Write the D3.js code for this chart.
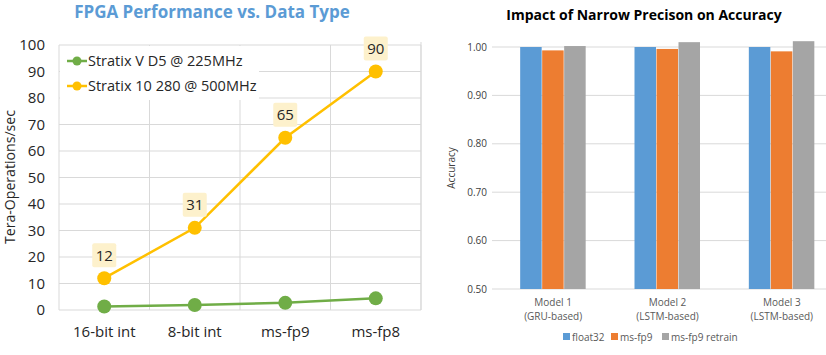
<!DOCTYPE html>
<html><head><meta charset="utf-8">
<script src="https://cdnjs.cloudflare.com/ajax/libs/d3/7.8.5/d3.min.js"></script>
<style>body{margin:0;background:#fff;}svg{display:block;font-family:"Open Sans",sans-serif;}</style>
</head><body>
<svg id="c" width="826" height="355"></svg>
<script>
// Left chart data
const perfCategories = ["16-bit int", "8-bit int", "ms-fp9", "ms-fp8"];
const perfSeriesNames = ["Stratix V D5 @ 225MHz", "Stratix 10 280 @ 500MHz"];
const stratixV = [1.3, 1.9, 2.7, 4.4];
const stratix10 = [12, 31, 65, 90];
const stratix10Labels = ["12", "31", "65", "90"];
const perfTicks = [0, 10, 20, 30, 40, 50, 60, 70, 80, 90, 100];

// Right chart data
const models = ["Model 1|(GRU-based)", "Model 2|(LSTM-based)", "Model 3|(LSTM-based)"];
const accSeriesNames = ["float32", "ms-fp9", "ms-fp9 retrain"];
const float32 = [1.000, 1.000, 1.000];
const msfp9 = [0.993, 0.996, 0.991];
const msfp9Retrain = [1.002, 1.010, 1.012];
const accTicks = [0.5, 0.6, 0.7, 0.8, 0.9, 1.0];

const svg = d3.select("#c");
const grid = "#d9d9d9";

// ---------- Left chart ----------
{
  const L = 59, R = 421, T = 45, B = 310;
  const x = d3.scalePoint().domain(perfCategories).range([L, R]).padding(0.5);
  const y = d3.scaleLinear().domain([0, 100]).range([B, T]);
  const g = svg.append("g");
  g.append("text").attr("x", 212).attr("y", 18).attr("text-anchor", "middle")
    .attr("font-size", 17).attr("font-weight", "bold").attr("fill", "#5b9bd5")
    .text("FPGA Performance vs. Data Type");
  g.selectAll(".hg").data(perfTicks).join("line")
    .attr("x1", L).attr("x2", R).attr("y1", d => y(d)).attr("y2", d => y(d))
    .attr("stroke", grid).attr("stroke-width", 1);
  const step = x.step();
  const vlines = [0, 1, 2, 3, 4].map(i => L + i * step);
  g.selectAll(".vg").data(vlines).join("line")
    .attr("x1", d => d).attr("x2", d => d).attr("y1", T).attr("y2", B)
    .attr("stroke", grid).attr("stroke-width", 1);
  g.selectAll(".yt").data(perfTicks).join("text")
    .attr("x", 45).attr("y", d => y(d)).attr("dy", "0.35em").attr("text-anchor", "end")
    .attr("font-size", 15).attr("fill", "#262626").text(d => d);
  g.selectAll(".xt").data(perfCategories).join("text")
    .attr("x", d => x(d)).attr("y", 337).attr("text-anchor", "middle")
    .attr("font-size", 15).attr("fill", "#262626").text(d => d);
  g.append("text").attr("transform", `translate(15,177) rotate(-90)`)
    .attr("text-anchor", "middle").attr("font-size", 14).attr("fill", "#262626")
    .attr("textLength", 134).attr("lengthAdjust", "spacingAndGlyphs")
    .text("Tera-Operations/sec");
  g.append("rect").attr("x", L + 1).attr("y", T + 1).attr("width", 199).attr("height", 54).attr("fill", "#fff");
  const line = d3.line().x((d, i) => x(perfCategories[i])).y(d => y(d));
  const series = [{v: stratixV, c: "#70ad47"}, {v: stratix10, c: "#ffc000"}];
  series.forEach(s => {
    g.append("path").attr("d", line(s.v)).attr("fill", "none").attr("stroke", s.c).attr("stroke-width", 2.5);
    g.selectAll(null).data(s.v).join("circle")
      .attr("cx", (d, i) => x(perfCategories[i])).attr("cy", d => y(d)).attr("r", 7).attr("fill", s.c);
  });
  stratix10.forEach((v, i) => {
    const cx = x(perfCategories[i]), cy = y(v) - 23;
    g.append("rect").attr("x", cx - 12).attr("y", cy - 12).attr("width", 24).attr("height", 24)
      .attr("rx", 2).attr("fill", "#fdf1cc");
    g.append("text").attr("x", cx).attr("y", cy).attr("dy", "0.36em").attr("text-anchor", "middle")
      .attr("font-size", 15).attr("fill", "#262626").text(stratix10Labels[i]);
  });
  perfSeriesNames.forEach((n, i) => {
    const ly = 61 + i * 25;
    g.append("line").attr("x1", 67).attr("x2", 87).attr("y1", ly).attr("y2", ly)
      .attr("stroke", series[i].c).attr("stroke-width", 2.5);
    g.append("circle").attr("cx", 77).attr("cy", ly).attr("r", 4.5).attr("fill", series[i].c);
    g.append("text").attr("x", 88).attr("y", ly).attr("dy", "0.36em").attr("font-size", 14.5)
      .attr("fill", "#262626").text(n);
  });
}

// ---------- Right chart ----------
{
  const L = 492, T = 47, B = 289;
  const x0 = d3.scaleBand().domain(models).range([496, 839]);
  const y = d3.scaleLinear().domain([0.5, 1.0]).range([B, T]);
  const x1 = d3.scaleBand().domain(accSeriesNames).range([0, 66]);
  const colors = ["#5b9bd5", "#ed7d31", "#a5a5a5"];
  const vals = [float32, msfp9, msfp9Retrain];
  const g = svg.append("g");
  g.append("line").attr("x1", 421).attr("x2", 421).attr("y1", 42).attr("y2", 310).attr("stroke", "#d9d9d9");
  g.append("text").attr("x", 644).attr("y", 20).attr("text-anchor", "middle")
    .attr("font-size", 14).attr("font-weight", "bold").attr("fill", "#000")
    .text("Impact of Narrow Precison on Accuracy");
  g.selectAll(".hg").data(accTicks).join("line")
    .attr("x1", L).attr("x2", 826).attr("y1", d => y(d)).attr("y2", d => y(d))
    .attr("stroke", grid).attr("stroke-width", 1);
  g.selectAll(".yt").data(accTicks).join("text")
    .attr("x", 487).attr("y", d => y(d)).attr("dy", "0.35em").attr("text-anchor", "end")
    .attr("font-size", 10).attr("fill", "#404040").text(d => d3.format(".2f")(d));
  g.append("text").attr("transform", `translate(455,${(T + B) / 2}) rotate(-90)`)
    .attr("text-anchor", "middle").attr("font-size", 10).attr("fill", "#404040").text("Accuracy");
  models.forEach((m, mi) => {
    const gx = x0(m) + x0.bandwidth() / 2 - 33;
    accSeriesNames.forEach((s, si) => {
      const v = vals[si][mi];
      g.append("rect").attr("x", gx + x1(s)).attr("width", x1.bandwidth() - 0.5)
        .attr("y", y(v)).attr("height", B - y(v)).attr("fill", colors[si]);
    });
    const parts = m.split("|");
    parts.forEach((p, pi) => {
      g.append("text").attr("x", x0(m) + x0.bandwidth() / 2).attr("y", 306 + pi * 14)
        .attr("text-anchor", "middle").attr("font-size", 10).attr("fill", "#595959").text(p);
    });
  });
  const lx = [563, 611, 662];
  accSeriesNames.forEach((s, i) => {
    g.append("rect").attr("x", lx[i]).attr("y", 333).attr("width", 7).attr("height", 7).attr("fill", colors[i]);
    g.append("text").attr("x", lx[i] + 9).attr("y", 337).attr("dy", "0.35em")
      .attr("font-size", 10).attr("fill", "#595959").text(s);
  });
}
</script>
</body></html>
